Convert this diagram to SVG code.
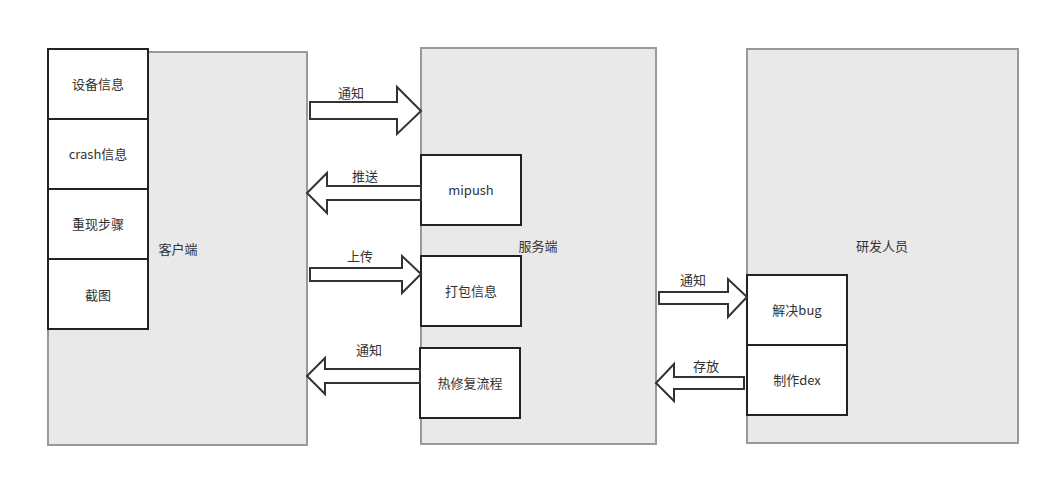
<svg xmlns="http://www.w3.org/2000/svg" width="1050" height="478" viewBox="0 0 1050 478">
<style>
.cont{fill:#e9e9e9;stroke:#999;stroke-width:2}
.box{fill:#fff;stroke:#222;stroke-width:2}
.arr{fill:#fff;stroke:#333;stroke-width:2;stroke-linejoin:miter}
text{font-family:"Noto Sans CJK SC","Noto Sans",sans-serif;font-size:13px;fill:#333;text-anchor:middle;dominant-baseline:central}
</style>
<rect width="1050" height="478" fill="#fff"/>
<g id="client"><rect class="cont" x="48" y="52" width="259" height="393"/><text x="178" y="248">客户端</text></g>
<g id="server"><rect class="cont" x="421" y="48" width="235" height="396"/><text x="538" y="245">服务端</text></g>
<g id="dev"><rect class="cont" x="747" y="49" width="271" height="394"/><text x="882" y="245">研发人员</text></g>
<g id="device-info"><rect class="box" x="48" y="49" width="100" height="70"/><text x="98" y="83">设备信息</text></g>
<g id="crash-info"><rect class="box" x="48" y="119" width="100" height="70"/><text x="98" y="153">crash信息</text></g>
<g id="repro-steps"><rect class="box" x="48" y="189" width="100" height="70"/><text x="98" y="223">重现步骤</text></g>
<g id="screenshot"><rect class="box" x="48" y="259" width="100" height="70"/><text x="98" y="294">截图</text></g>
<g id="mipush"><rect class="box" x="421" y="155" width="100" height="70"/><text x="471" y="189">mipush</text></g>
<g id="pack-info"><rect class="box" x="421" y="256" width="100" height="70"/><text x="471" y="290">打包信息</text></g>
<g id="hotfix"><rect class="box" x="420" y="348" width="100" height="70"/><text x="470" y="382">热修复流程</text></g>
<g id="fix-bug"><rect class="box" x="747" y="275" width="100" height="70"/><text x="797" y="309">解决bug</text></g>
<g id="make-dex"><rect class="box" x="747" y="345" width="100" height="70"/><text x="797" y="379">制作dex</text></g>
<g id="connectors">
<polygon class="arr" points="310,102 397,102 397,87 421,111 397,134 397,119 310,119"/>
<text x="351" y="92">通知</text>
<polygon class="arr" points="421,186 327,186 327,173 307,193 327,213 327,200 421,200"/>
<text x="365" y="175">推送</text>
<polygon class="arr" points="310,268 402,268 402,256 421,274 402,293 402,281 310,281"/>
<text x="360" y="255">上传</text>
<polygon class="arr" points="420,369 325,369 325,358 307,376 325,394 325,383 420,383"/>
<text x="369" y="349">通知</text>
<polygon class="arr" points="659,292 728,292 728,279 747,297 728,317 728,304 659,304"/>
<text x="693" y="279">通知</text>
<polygon class="arr" points="744,377 674,377 674,364 656,383 674,401 674,389 744,389"/>
<text x="706" y="365">存放</text>
</g>
</svg>
